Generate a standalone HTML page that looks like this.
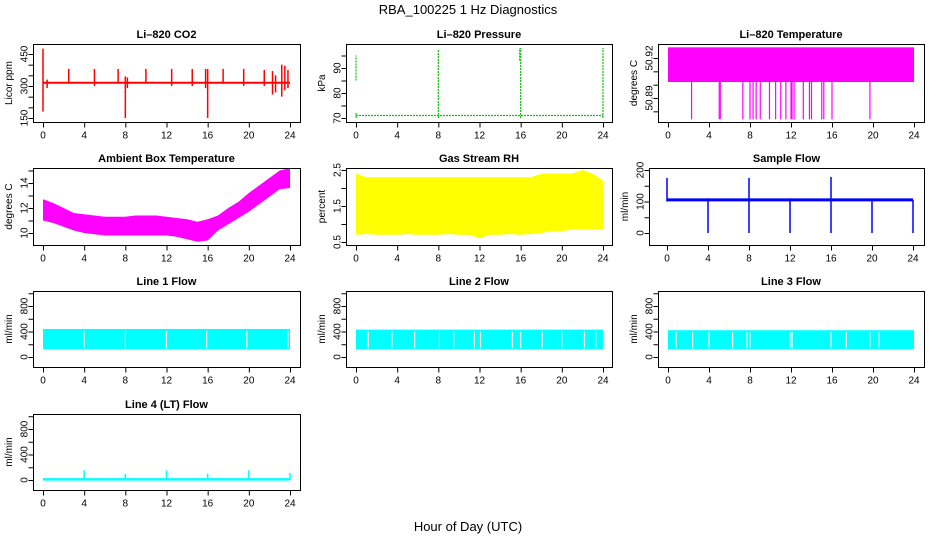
<!DOCTYPE html>
<html><head><meta charset="utf-8"><style>
html,body{margin:0;padding:0;background:#fff;}
svg{display:block;font-family:"Liberation Sans",sans-serif;}
</style></head><body>
<svg id="c" width="936" height="540" viewBox="0 0 936 540" xmlns="http://www.w3.org/2000/svg">
<text x="468" y="14" text-anchor="middle" font-size="13">RBA_100225  1 Hz Diagnostics</text>
<text x="468" y="531" text-anchor="middle" font-size="13">Hour of Day (UTC)</text>
</svg>
<script>
var xTicks=[0,4,8,12,16,20,24];
// CO2
var co2Base=315;
var co2Spikes=[[0,180,475],[0.4,290,330],[2.5,310,380],[5,300,380],[7.3,310,380],[8,150,345],[8.2,290,340],[10,310,380],[12.5,300,380],[14.5,300,380],[15.8,290,380],[16,150,380],[17.5,310,380],[19.5,300,380],[21.5,300,375],[22.3,260,370],[22.6,270,350],[23.2,250,400],[23.5,280,395],[23.8,290,375]];
// Pressure
var presBase=71;
var presSpikes=[[0,85,95],[0,70,72],[8,70,97.5],[15.9,93,98],[16,70,98],[24,70,98]];
// Li-820 temperature
var tempHi=50.928, tempLo=50.902, tempDrop=50.874;
var tempDrops=[2.3,5.0,5.1,7.3,8.0,8.3,8.6,9.0,9.9,10.5,11.0,11.5,12.0,12.1,12.3,13.2,13.8,14.0,15.0,15.2,16.0,19.7];
// Ambient box temperature (hourly envelopes)
var ambHours=[0,1,2,3,4,5,6,7,8,9,10,11,12,13,14,15,16,17,18,19,20,21,22,23,24];
var ambLo=[11.0,10.8,10.5,10.2,10.0,9.9,9.8,9.8,9.8,9.8,9.8,9.8,9.8,9.7,9.5,9.3,9.4,10.2,10.7,11.2,11.7,12.3,12.9,13.5,13.6];
var ambHi=[12.7,12.4,12.0,11.6,11.5,11.4,11.3,11.3,11.3,11.4,11.4,11.4,11.3,11.2,11.1,10.9,11.1,11.4,12.0,12.5,13.2,13.8,14.4,15.0,15.2];
// Gas stream RH
var rhLo=[0.7,0.72,0.7,0.7,0.7,0.72,0.7,0.7,0.7,0.72,0.7,0.7,0.6,0.7,0.7,0.72,0.7,0.72,0.75,0.8,0.8,0.85,0.85,0.85,0.85];
var rhHi=[2.4,2.3,2.3,2.3,2.3,2.3,2.3,2.3,2.3,2.3,2.3,2.3,2.3,2.3,2.3,2.3,2.3,2.3,2.4,2.4,2.4,2.4,2.5,2.4,2.2];
// Sample flow
var sfBase=105;
var sfSpikes=[[0,100,175],[4,0,110],[8,0,175],[12,0,110],[16,0,178],[20,0,110],[24,0,105]];
// Line flows
var l1Lo=120, l1Hi=440;
var l1Gaps=[4,8,12,15.9,19.8,23.8];
var l2Lo=120, l2Hi=430;
var l2Gaps=[1.2,3.5,5.7,8.1,9.5,11.5,12.1,15.2,16.0,18.1,20.0,22.2,23.3];
var l3Lo=120, l3Hi=420;
var l3Gaps=[0.8,2.4,4.0,6.3,7.7,8.0,11.9,12.1,15.9,17.4,19.7,20.6];
// Line 4
var l4Base=10;
var l4Spikes=[[4,0,150],[8,0,100],[12,0,150],[16,0,100],[20,0,150],[24,0,110]];

var svg=document.getElementById('c');
var NS='http://www.w3.org/2000/svg';
function mk(tag,attrs,parent){var e=document.createElementNS(NS,tag);for(var k in attrs)e.setAttribute(k,attrs[k]);(parent||svg).appendChild(e);return e;}

function panel(o){
  var g=mk('g',{});
  
  
  var X=function(h){return o.x0+(h/24)*(o.x24-o.x0);};
  var Y=function(v){return o.ya+(v-o.va)*(o.yb-o.ya)/(o.vb-o.va);};
  var clip=mk('clipPath',{id:'cl'+o.name},g);
  mk('rect',{x:o.bl,y:o.bt,width:o.br-o.bl,height:o.bb-o.bt},clip);
  var pg=mk('g',{'clip-path':'url(#cl'+o.name+')'},g);
  o.draw(pg,X,Y);
  var box=mk('rect',{x:o.bl+.5,y:o.bt+.5,width:o.br-o.bl,height:o.bb-o.bt,fill:'none',stroke:'#000','stroke-width':1},g);
  
  
  var t=mk('text',{x:(o.bl+o.br)/2,y:o.bt-6,'text-anchor':'middle','font-size':'11','font-weight':'bold'},g);
  t.textContent=o.title;
  
  
  var ay=o.bb+.5;
  xTicks.forEach(function(h){
    mk('line',{x1:X(h)+.5,x2:X(h)+.5,y1:ay,y2:ay+5,stroke:'#000'},g);
    var tl=mk('text',{x:X(h),y:ay+16,'text-anchor':'middle','font-size':'10'},g);
    tl.textContent=h;
    
    
  });
  var ax=o.bl+.5;
  o.yt.forEach(function(v){mk('line',{x1:ax-5,x2:ax,y1:Y(v)+.5,y2:Y(v)+.5,stroke:'#000'},g);});
  o.yl.forEach(function(v,i){
    var yy=Y(v),xx=ax-6;
    var tl=mk('text',{x:xx,y:yy,'text-anchor':'middle','font-size':'10',transform:'rotate(-90 '+xx+' '+yy+')'},g);
    tl.textContent=o.ylt?o.ylt[i]:v;
    
    
  });
  var yc=(o.bt+o.bb)/2,xc=o.bl-21;
  var yt=mk('text',{x:xc,y:yc,'text-anchor':'middle','font-size':'10',transform:'rotate(-90 '+xc+' '+yc+')'},g);
  yt.textContent=o.ylab;
  
  
}
function vline(p,x,y1,y2,col,w){return mk('line',{x1:x,x2:x,y1:y1,y2:y2,stroke:col,'stroke-width':w||1.5},p);}
function band(p,X,Y,hours,lo,hi,col){
  var pts=[];
  hours.forEach(function(h,i){pts.push(X(h)+','+Y(hi[i]));});
  for(var i=hours.length-1;i>=0;i--)pts.push(X(hours[i])+','+Y(lo[i]));
  var e=mk('polygon',{points:pts.join(' '),fill:col},p);
  
  
}
var C1={bl:33,br:300,x0:43,x24:290},C2={bl:346,br:612,x0:356,x24:603},C3={bl:658,br:924,x0:668,x24:914};
var R=[[44,122],[168,245],[291,367],[414,490]];
function P(c,r,o){for(var k in c)o[k]=c[k];o.bt=R[r][0];o.bb=R[r][1];panel(o);}
var flowY=function(r){return {va:0,vb:800,ya:R[r][0]+66,yb:R[r][0]+15};};

P(C1,0,{name:'co2-panel',title:'Li\u2013820 CO2',ylab:'Licor ppm',va:150,vb:450,ya:118,yb:54,yt:[150,200,250,300,350,400,450],yl:[150,300,450],draw:function(p,X,Y){
  mk('line',{x1:X(0),x2:X(24),y1:Y(co2Base),y2:Y(co2Base),stroke:'#f00','stroke-width':2},p);
  co2Spikes.forEach(function(s){vline(p,X(s[0]),Y(s[1]),Y(s[2]),'#f00',1.5);});
}});
P(C2,0,{name:'pressure-panel',title:'Li\u2013820 Pressure',ylab:'kPa',va:70,vb:90,ya:118,yb:68,yt:[70,75,80,85,90,95],yl:[70,80,90],draw:function(p,X,Y){
  mk('line',{x1:X(0),x2:X(24),y1:Y(presBase),y2:Y(presBase),stroke:'#0c0','stroke-width':1.2,'stroke-dasharray':'2 1'},p);
  presSpikes.forEach(function(s){mk('line',{x1:X(s[0]),x2:X(s[0]),y1:Y(s[1]),y2:Y(s[2]),stroke:'#0c0','stroke-width':1.2,'stroke-dasharray':'2 1'},p);});
}});
P(C3,0,{name:'licor-temp-panel',title:'Li\u2013820 Temperature',ylab:'degrees C',va:50.89,vb:50.92,ya:98,yb:58,yt:[50.88,50.89,50.9,50.91,50.92],yl:[50.89,50.92],ylt:['50.89','50.92'],draw:function(p,X,Y){
  mk('rect',{x:X(0),y:Y(tempHi),width:X(24)-X(0),height:Y(tempLo)-Y(tempHi),fill:'#f0f'},p);
  tempDrops.forEach(function(h){vline(p,X(h),Y(tempLo),Y(tempDrop),'#f0f',1.2);});
}});
P(C1,1,{name:'ambient-temp-panel',title:'Ambient Box Temperature',ylab:'degrees C',va:10,vb:14,ya:233,yb:183,yt:[10,11,12,13,14,15],yl:[10,12,14],draw:function(p,X,Y){
  band(p,X,Y,ambHours,ambLo,ambHi,'#f0f');
}});
P(C2,1,{name:'gas-rh-panel',title:'Gas Stream RH',ylab:'percent',va:0.5,vb:2.5,ya:242,yb:170,yt:[0.5,1,1.5,2,2.5],yl:[0.5,1.5,2.5],draw:function(p,X,Y){
  band(p,X,Y,ambHours,rhLo,rhHi,'#ff0');
}});
P({bl:649,br:924,x0:667,x24:913},1,{name:'sample-flow-panel',title:'Sample Flow',ylab:'ml/min',va:0,vb:200,ya:233,yb:170,yt:[0,50,100,150,200],yl:[0,100,200],draw:function(p,X,Y){
  mk('line',{x1:X(0),x2:X(24),y1:Y(sfBase),y2:Y(sfBase),stroke:'#00f','stroke-width':3},p);
  sfSpikes.forEach(function(s){vline(p,X(s[0]),Y(s[1]),Y(s[2]),'#00f',1.5);});
}});
function flowPanel(c,r,name,title,lo,hi,gaps){
  var fy=flowY(r);
  P(c,r,{name:name,title:title,ylab:'ml/min',va:fy.va,vb:fy.vb,ya:fy.ya,yb:fy.yb,yt:[0,200,400,600,800,1000],yl:[0,400,800],draw:function(p,X,Y){
    mk('rect',{x:X(0),y:Y(hi),width:X(24)-X(0),height:Y(lo)-Y(hi),fill:'#0ff'},p);
    gaps.forEach(function(h){vline(p,X(h),Y(hi-30),Y(lo+20),'#fff',1.2);});
  }});
}
flowPanel(C1,2,'line1-flow-panel','Line 1 Flow',l1Lo,l1Hi,l1Gaps);
flowPanel(C2,2,'line2-flow-panel','Line 2 Flow',l2Lo,l2Hi,l2Gaps);
flowPanel(C3,2,'line3-flow-panel','Line 3 Flow',l3Lo,l3Hi,l3Gaps);
var fy4=flowY(3);
P(C1,3,{name:'line4-flow-panel',title:'Line 4 (LT) Flow',ylab:'ml/min',va:0,vb:800,ya:fy4.ya,yb:fy4.yb,yt:[0,200,400,600,800,1000],yl:[0,400,800],draw:function(p,X,Y){
  mk('line',{x1:X(0),x2:X(24),y1:Y(l4Base),y2:Y(l4Base),stroke:'#0ff','stroke-width':2.5},p);
  l4Spikes.forEach(function(s){vline(p,X(s[0]),Y(s[1]),Y(s[2]),'#0ff',1.5);});
}});
</script>
</body></html>
